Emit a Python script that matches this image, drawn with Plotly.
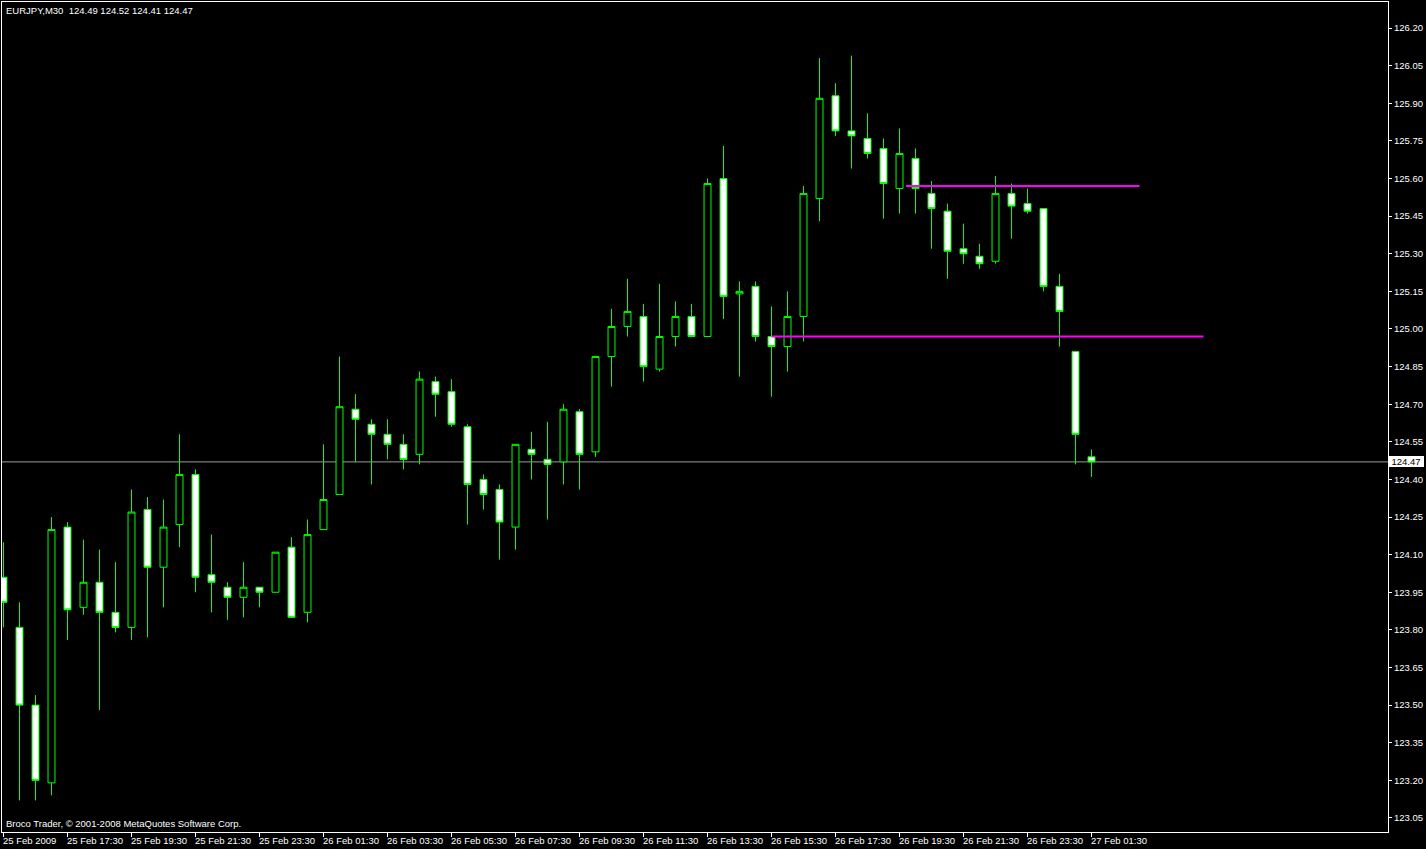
import plotly.graph_objects as go
from datetime import datetime, timedelta

# ---- data (EURJPY M30) ----
opens = [124.01, 123.81, 123.50, 123.19, 124.21, 123.89, 123.99, 123.87, 123.81, 124.28,
         124.05, 124.22, 124.42, 124.02, 123.97, 123.93, 123.97, 123.95, 124.13, 123.87,
         124.20, 124.34, 124.68, 124.62, 124.58, 124.54, 124.50, 124.79, 124.75, 124.61,
         124.40, 124.36, 124.21, 124.52, 124.48, 124.47, 124.67, 124.51, 124.89, 125.01,
         125.05, 124.84, 124.97, 125.05, 124.97, 125.60, 125.14, 125.17, 124.97, 124.93,
         125.05, 125.52, 125.93, 125.79, 125.76, 125.72, 125.56, 125.68, 125.54, 125.47,
         125.32, 125.29, 125.27, 125.54, 125.50, 125.48, 125.17, 124.91, 124.49]
highs = [124.15, 123.91, 123.54, 124.25, 124.23, 124.16, 124.12, 124.07, 124.36, 124.33,
         124.32, 124.58, 124.44, 124.18, 123.99, 124.07, 123.97, 124.11, 124.17, 124.24,
         124.54, 124.89, 124.74, 124.64, 124.64, 124.58, 124.83, 124.81, 124.80, 124.62,
         124.42, 124.38, 124.54, 124.59, 124.63, 124.70, 124.68, 124.89, 125.08, 125.20,
         125.10, 125.18, 125.11, 125.10, 125.60, 125.73, 125.19, 125.19, 125.09, 125.15,
         125.57, 126.08, 125.98, 126.09, 125.86, 125.76, 125.80, 125.72, 125.59, 125.50,
         125.42, 125.34, 125.61, 125.58, 125.56, 125.48, 125.22, 124.91, 124.52]
lows = [123.81, 123.12, 123.12, 123.14, 123.76, 123.86, 123.48, 123.79, 123.76, 123.77,
        123.89, 124.13, 123.95, 123.87, 123.84, 123.85, 123.89, 123.95, 123.85, 123.83,
        124.20, 124.34, 124.47, 124.38, 124.48, 124.44, 124.46, 124.65, 124.61, 124.22,
        124.28, 124.08, 124.12, 124.40, 124.24, 124.38, 124.36, 124.49, 124.77, 124.97,
        124.79, 124.83, 124.93, 124.97, 124.97, 125.04, 124.81, 124.95, 124.73, 124.83,
        124.95, 125.43, 125.77, 125.64, 125.68, 125.44, 125.46, 125.46, 125.32, 125.20,
        125.26, 125.24, 125.26, 125.36, 125.46, 125.15, 124.93, 124.46, 124.41]
closes = [123.91, 123.50, 123.20, 124.20, 123.88, 123.99, 123.87, 123.81, 124.27, 124.05,
          124.21, 124.42, 124.01, 123.99, 123.93, 123.97, 123.95, 124.11, 123.85, 124.18,
          124.32, 124.69, 124.64, 124.58, 124.54, 124.48, 124.80, 124.74, 124.62, 124.38,
          124.34, 124.23, 124.54, 124.50, 124.46, 124.68, 124.50, 124.89, 125.01, 125.07,
          124.85, 124.97, 125.05, 124.97, 125.58, 125.13, 125.15, 124.97, 124.93, 125.05,
          125.54, 125.92, 125.79, 125.77, 125.70, 125.58, 125.70, 125.56, 125.48, 125.31,
          125.30, 125.26, 125.54, 125.49, 125.47, 125.17, 125.07, 124.58, 124.47]

start_time = datetime(2009, 2, 25, 15, 30)
bar_minutes = 30
n = len(opens)
bars = list(range(n))
times = [start_time + timedelta(minutes=bar_minutes * i) for i in bars]

price_ticks = [123.05, 123.20, 123.35, 123.50, 123.65, 123.80, 123.95, 124.10, 124.25,
               124.40, 124.55, 124.70, 124.85, 125.00, 125.15, 125.30, 125.45, 125.60,
               125.75, 125.90, 126.05, 126.20]
label_every = 4
label_bars = bars[::label_every]
time_labels = ["25 Feb 2009" if i == 0 else times[i].strftime("%d Feb %H:%M") for i in label_bars]

# horizontal trend lines (price level, start bar, end bar)
line_levels = [125.57, 124.97]
line_starts = [56.4, 48]
line_ends = [71, 75]
last_price = closes[-1]

title_text = "EURJPY,M30  %.2f %.2f %.2f %.2f" % (opens[-1], highs[-1], lows[-1], closes[-1])
footer_text = "Broco Trader, © 2001-2008 MetaQuotes Software Corp."

FONT = "Liberation Sans"
FS = 9.5
LIME = "#00ff00"

fig = go.Figure()
fig.add_trace(go.Candlestick(
    x=bars, open=opens, high=highs, low=lows, close=closes,
    increasing=dict(line=dict(color=LIME, width=1), fillcolor="black"),
    decreasing=dict(line=dict(color=LIME, width=1), fillcolor="white"),
    whiskerwidth=0, hoverinfo="skip", showlegend=False,
))

shapes = [dict(type="line", xref="paper", yref="y", x0=0, x1=1, y0=last_price, y1=last_price,
               line=dict(color="#9a9a9a", width=1), layer="below")]
for lv, s, e in zip(line_levels, line_starts, line_ends):
    shapes.append(dict(type="line", xref="x", yref="y", x0=s, x1=e, y0=lv, y1=lv,
                       line=dict(color="#ff00ff", width=2), layer="above"))

annotations = []
for b, t in zip(label_bars, time_labels):
    annotations.append(dict(x=b, y=0, xref="x", yref="paper", text=t, showarrow=False,
                            xanchor="left", yanchor="top", xshift=-3, yshift=-1,
                            font=dict(family=FONT, size=FS, color="white")))
annotations.append(dict(x=0, y=1, xref="paper", yref="paper", text=title_text, showarrow=False,
                        xanchor="left", yanchor="top", xshift=2, yshift=-1,
                        font=dict(family=FONT, size=FS, color="white")))
annotations.append(dict(x=0, y=0, xref="paper", yref="paper", text=footer_text, showarrow=False,
                        xanchor="left", yanchor="bottom", xshift=2, yshift=1,
                        font=dict(family=FONT, size=FS, color="white")))
annotations.append(dict(x=1, y=last_price, xref="paper", yref="y", text="%.2f" % last_price,
                        showarrow=False, xanchor="left", yanchor="middle", xshift=0,
                        bgcolor="white", borderpad=0, borderwidth=0, width=36, align="center",
                        font=dict(family=FONT, size=FS, color="black")))

fig.update_layout(
    width=1426, height=849,
    margin=dict(l=2, r=38, t=2, b=17),
    paper_bgcolor="black", plot_bgcolor="black",
    boxgap=0.38,
    showlegend=False,
    shapes=shapes, annotations=annotations,
    xaxis=dict(range=[-0.094, 86.53], showgrid=False, zeroline=False,
               showline=True, linecolor="white", linewidth=1, mirror=True,
               tickmode="array", tickvals=label_bars, ticktext=[""] * len(label_bars),
               ticks="outside", ticklen=4, tickcolor="white",
               rangeslider=dict(visible=False), fixedrange=True),
    yaxis=dict(range=[122.994, 126.304], side="right", showgrid=False, zeroline=False,
               showline=True, linecolor="white", linewidth=1, mirror=True,
               tickmode="array", tickvals=price_ticks, ticktext=["%.2f" % v for v in price_ticks],
               ticks="outside", ticklen=3, tickcolor="white",
               tickfont=dict(family=FONT, size=FS, color="white"), fixedrange=True),
)

fig.write_html("out.html", config={"displayModeBar": False},
               post_script="document.body.style.margin='0';document.body.style.padding='0';"
                           "document.body.style.background='black';document.body.style.overflow='hidden';")
